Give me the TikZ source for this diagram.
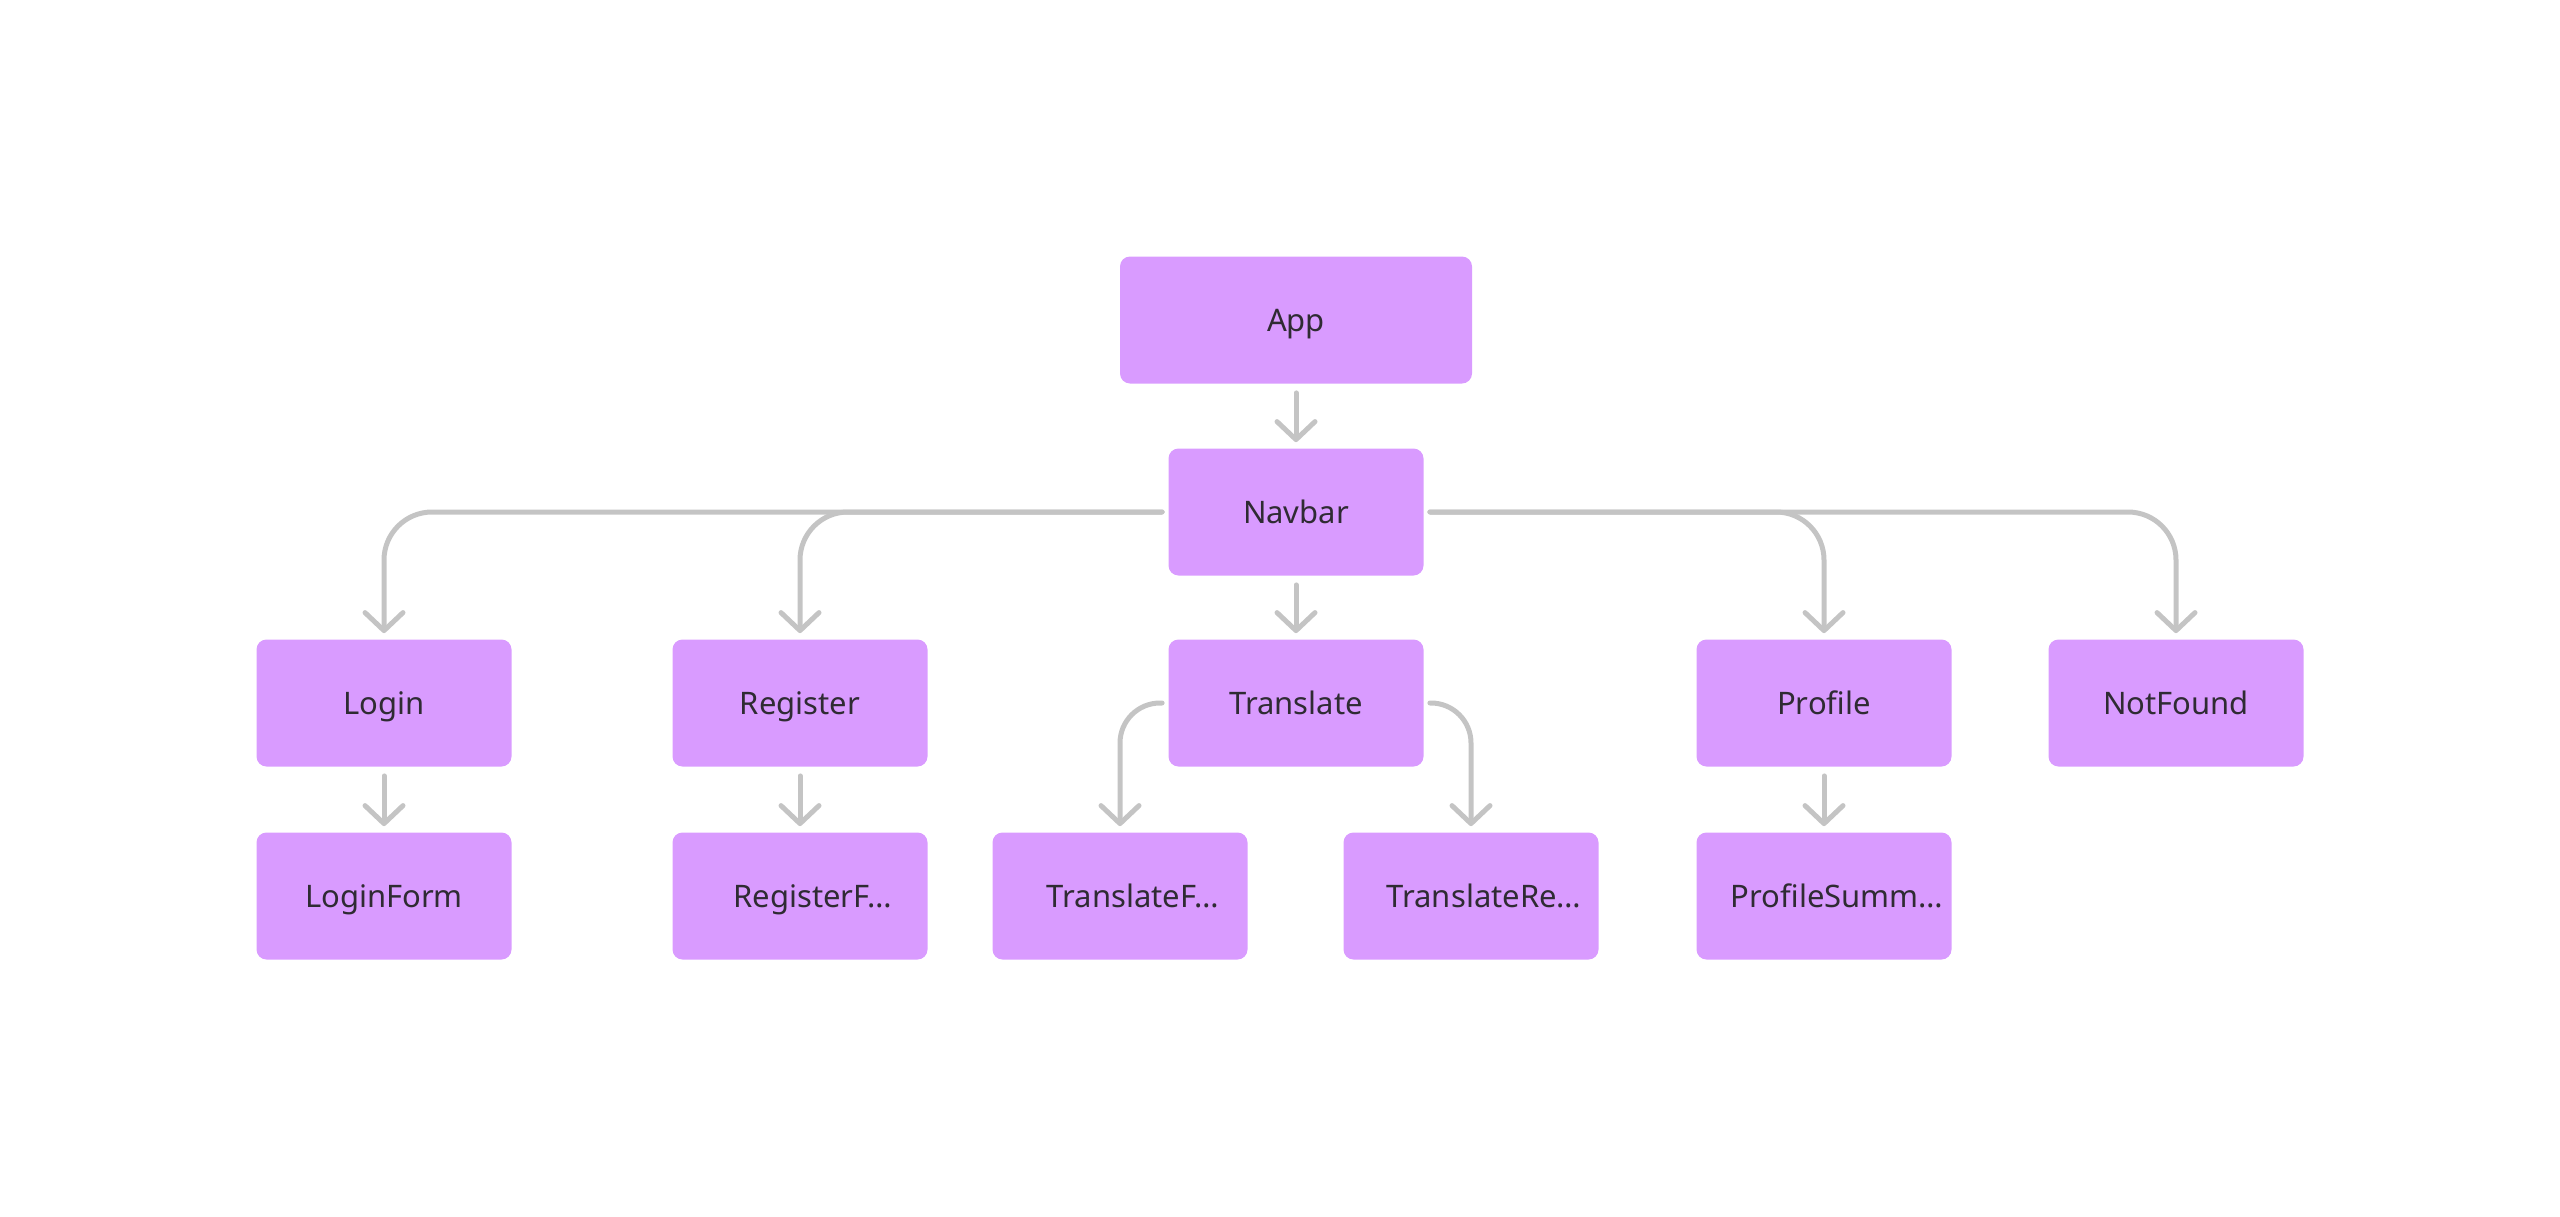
\documentclass[tikz,border=0pt]{standalone}
\usepackage{fontspec}
\setmainfont{Noto Sans}
\usetikzlibrary{arrows.meta}

\definecolor{boxfill}{HTML}{D99BFF}
\definecolor{linkgray}{HTML}{C4C4C4}
\definecolor{inkdark}{HTML}{2F2B33}
\newcommand{\cutname}[1]{\hspace*{13pt}#1}

\tikzset{
  comp/.style={fill=boxfill, rounded corners=5pt, minimum width=127.5pt,
    minimum height=63.5pt, inner sep=0pt, text height=11pt, text depth=0pt,
    text=inkdark, font=\fontsize{15.5}{18}\selectfont},
  link/.style={draw=linkgray, line width=2.5pt, line cap=round, line join=round,
    -{Straight Barb[length=9pt,width=19pt,round]}, shorten <=3pt, shorten >=3pt},
}

\begin{document}
\begin{tikzpicture}[x=0.5pt,y=-0.5pt]
\useasboundingbox (0,0) rectangle (2560,1216);

% top of the tree
\node[comp, minimum width=176pt] (app) at (1296,320) {App};
\node[comp] (navbar) at (1296,512) {Navbar};

% pages under the navbar
\node[comp] (login) at (384,703) {Login};
\node[comp] (register) at (800,703) {Register};
\node[comp] (translate) at (1296,703) {Translate};
\node[comp] (profile) at (1824,703) {Profile};
\node[comp] (notfound) at (2176,703) {NotFound};

% components inside the pages
\node[comp] (loginform) at (384,896) {LoginForm};
\node[comp] (registerform) at (800,896) {\cutname{RegisterF…}};
\node[comp] (translateform) at (1120,896) {\cutname{TranslateF…}};
\node[comp] (translateresult) at (1471,896) {\cutname{TranslateRe…}};
\node[comp] (profilesummary) at (1824,896) {\cutname{ProfileSumm…}};

% connectors
\draw[link, shorten <=4.5pt] (app) -- (navbar);
\draw[link, rounded corners=24pt] (navbar.west) -| (login.north);
\draw[link, rounded corners=24pt] (navbar.west) -| (register.north);
\draw[link, shorten <=4.5pt] (navbar) -- (translate);
\draw[link, rounded corners=24pt] (navbar.east) -| (profile.north);
\draw[link, rounded corners=24pt] (navbar.east) -| (notfound.north);
\draw[link, rounded corners=20pt] (translate.west) -| (translateform.north);
\draw[link, rounded corners=20pt] (translate.east) -| (translateresult.north);
\draw[link, shorten <=4.5pt] (login) -- (loginform);
\draw[link, shorten <=4.5pt] (register) -- (registerform);
\draw[link, shorten <=4.5pt] (profile) -- (profilesummary);
\end{tikzpicture}
\end{document}
